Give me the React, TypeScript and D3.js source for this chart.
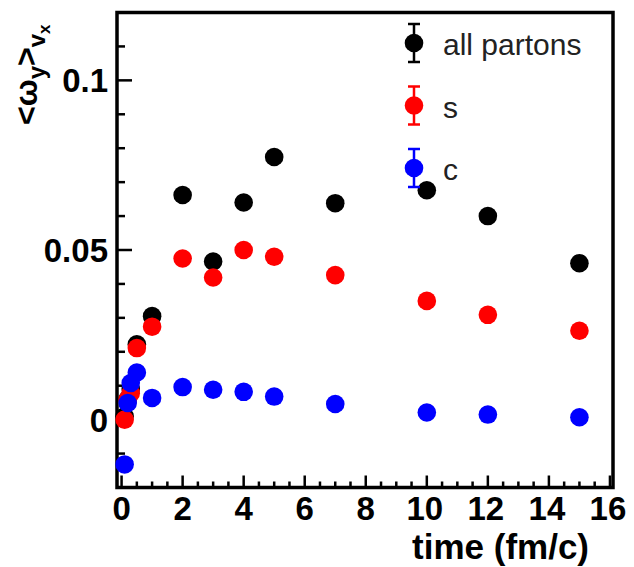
import React from "react";
import * as d3 from "d3";

const times = [0.1, 0.2, 0.3, 0.5, 1, 2, 3, 4, 5, 7, 10, 12, 15];
const allPartons = [0.001, 0.006, 0.009, 0.0222, 0.0305, 0.0662, 0.0466, 0.064, 0.0774, 0.0638, 0.0676, 0.06, 0.0461];
const sQuark = [0.0, 0.006, 0.0078, 0.0211, 0.0274, 0.0475, 0.0419, 0.05, 0.048, 0.0426, 0.035, 0.0309, 0.0262];
const cQuark = [-0.0132, 0.0049, 0.0108, 0.0139, 0.0064, 0.0096, 0.0088, 0.0082, 0.0068, 0.0046, 0.0021, 0.0015, 0.0007];

const seriesNames = ["all partons", "s", "c"];
const seriesColors = ["#000000", "#ff0000", "#0000ff"];
const xTickLabels = ["0", "2", "4", "6", "8", "10", "12", "14", "16"];
const yTickLabels = ["0", "0.05", "0.1"];

const W = 634;
const H = 567;
const F = { l: 117, r: 613, t: 12.5, b: 487.5 };

export default function App() {
  const x = d3.scaleLinear().domain([-0.15, 16.1]).range([F.l, F.r]);
  const y = d3.scaleLinear().domain([-0.02, 0.12]).range([F.b, F.t]);
  const series = [allPartons, sQuark, cQuark];
  const font = "'Liberation Sans', Arial, sans-serif";
  const r = 9.3;

  const xMinor = d3.range(0, 16.01, 0.5);
  const yMinor = d3.range(-0.02, 0.1201, 0.01).map((v) => Math.round(v * 1000) / 1000);

  return (
    <svg width={W} height={H} style={{ position: "absolute", left: 0, top: 0, background: "#fff" }}>
      <rect x={0} y={0} width={W} height={H} fill="#fff" />
      {xMinor.map((v, i) => {
        const major = Math.abs(v / 2 - Math.round(v / 2)) < 1e-6;
        return (
          <line key={"xt" + i} x1={x(v)} x2={x(v)} y1={F.b} y2={F.b - (major ? 12 : 6)} stroke="#000" strokeWidth={2.5} />
        );
      })}
      {yMinor.map((v, i) => {
        const major = Math.abs(v / 0.05 - Math.round(v / 0.05)) < 1e-6;
        return (
          <line key={"yt" + i} x1={F.l} x2={F.l + (major ? 15 : 8)} y1={y(v)} y2={y(v)} stroke="#000" strokeWidth={2.5} />
        );
      })}
      <rect x={F.l} y={F.t} width={F.r - F.l} height={F.b - F.t} fill="none" stroke="#000" strokeWidth={3.5} />
      {xTickLabels.map((t) => (
        <text key={"xl" + t} x={x(+t) - (+t >= 10 ? 2 : 0)} y={520} textAnchor="middle" fontFamily={font} fontWeight="bold" fontSize={33}>
          {t}
        </text>
      ))}
      {yTickLabels.map((t) => (
        <text key={"yl" + t} x={108} y={y(+t) + 12} textAnchor="end" fontFamily={font} fontWeight="bold" fontSize={33}>
          {t}
        </text>
      ))}
      <text x={589} y={559} textAnchor="end" fontFamily={font} fontWeight="bold" fontSize={35}>
        time (fm/c)
      </text>
      <text transform="translate(37,125) rotate(-90)" fontFamily={font} fontWeight="bold" fontSize={32}>
        {"<ω"}
        <tspan dy={8} fontSize={24}>y</tspan>
        <tspan dy={-8}>{">"}</tspan>
        <tspan dy={8} fontSize={24}>v</tspan>
        <tspan dy={5} fontSize={17}>x</tspan>
      </text>
      {series.map((vals, si) => (
        <g key={"s" + si}>
          {vals.map((v, i) => (
            <circle key={i} cx={x(times[i])} cy={y(v)} r={r} fill={seriesColors[si]} />
          ))}
        </g>
      ))}
      {seriesNames.map((name, i) => {
        const cy = 43 + i * 62.5;
        const cx = 414;
        return (
          <g key={"lg" + i}>
            <line x1={cx} x2={cx} y1={cy - 19} y2={cy + 19} stroke={seriesColors[i]} strokeWidth={2.5} />
            <line x1={cx - 6} x2={cx + 6} y1={cy - 19} y2={cy - 19} stroke={seriesColors[i]} strokeWidth={2.5} />
            <line x1={cx - 6} x2={cx + 6} y1={cy + 19} y2={cy + 19} stroke={seriesColors[i]} strokeWidth={2.5} />
            <circle cx={cx} cy={cy} r={r} fill={seriesColors[i]} />
            <text x={443} y={cy + 12} fontFamily={font} fontSize={30} fill="#222">
              {name}
            </text>
          </g>
        );
      })}
    </svg>
  );
}
